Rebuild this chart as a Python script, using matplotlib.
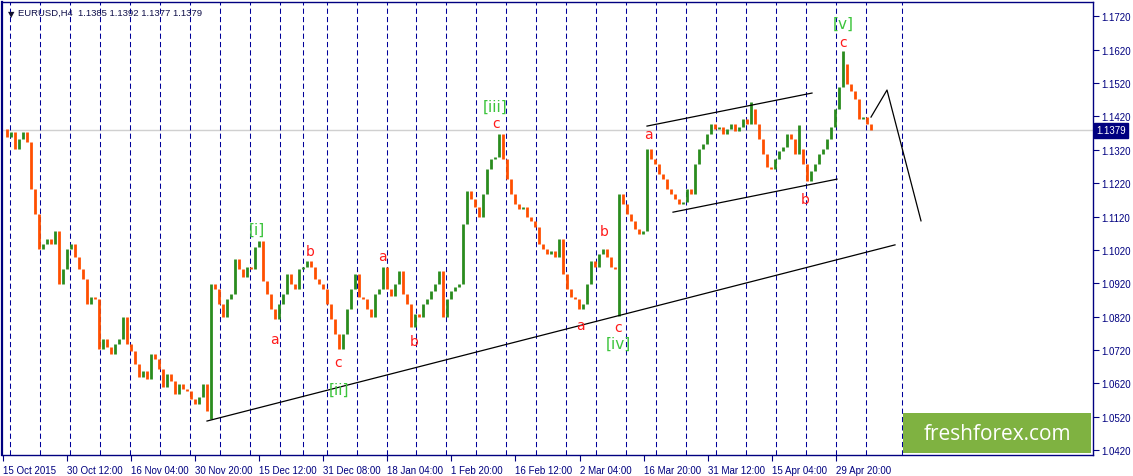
import numpy as np
import matplotlib.pyplot as plt
from matplotlib.patches import Rectangle
import matplotlib.transforms as mtransforms

# EURUSD H4 closes, one value every 4 bars
closes = [
    1.1382, 1.1358, 1.1373, 1.1322, 1.1352, 1.1373, 1.1343, 1.1202, 1.1127, 1.1022,
    1.1037, 1.1052, 1.1037, 1.1076, 1.0917, 1.0962, 1.1022, 1.1037, 1.0998, 1.0962,
    1.0932, 1.0857, 1.0878, 1.0872, 1.0722, 1.0752, 1.0728, 1.0707, 1.0737, 1.0752,
    1.0818, 1.0737, 1.0716, 1.0677, 1.0638, 1.0656, 1.0632, 1.0707, 1.0692, 1.0662,
    1.0608, 1.0647, 1.0626, 1.0587, 1.0617, 1.0602, 1.0596, 1.0572, 1.0557, 1.0578,
    1.0617, 1.0536, 1.0917, 1.0902, 1.0857, 1.0818, 1.0872, 1.0887, 1.0992, 1.0962,
    1.0938, 1.0968, 1.0962, 1.1028, 1.1046, 1.0926, 1.0887, 1.0842, 1.0812, 1.0857,
    1.0887, 1.0947, 1.0917, 1.0902, 1.0962, 1.0968, 1.0986, 1.0968, 1.0932, 1.0917,
    1.0902, 1.0857, 1.0812, 1.0767, 1.0722, 1.0767, 1.0842, 1.0902, 1.0947, 1.0878,
    1.0872, 1.0842, 1.0818, 1.0887, 1.0902, 1.0968, 1.0902, 1.0881, 1.0917, 1.0956,
    1.0887, 1.0857, 1.0788, 1.0827, 1.0818, 1.0857, 1.0872, 1.0896, 1.0917, 1.0956,
    1.0818, 1.0872, 1.0896, 1.0908, 1.0917, 1.1097, 1.1196, 1.1172, 1.1148, 1.1118,
    1.1187, 1.1262, 1.1292, 1.1298, 1.1367, 1.1292, 1.1232, 1.1187, 1.1157, 1.1142,
    1.1148, 1.1118, 1.1106, 1.1088, 1.1037, 1.1022, 1.1007, 1.1016, 1.0998, 1.1052,
    1.0947, 1.0902, 1.0878, 1.0872, 1.0842, 1.0857, 1.0917, 1.0986, 1.0968, 1.1007,
    1.1022, 1.0998, 1.0968, 1.0962, 1.1187, 1.1157, 1.1127, 1.1106, 1.1082, 1.1067,
    1.1076, 1.1322, 1.1292, 1.1277, 1.1247, 1.1232, 1.1202, 1.1187, 1.1172, 1.1157,
    1.1163, 1.1202, 1.1187, 1.1277, 1.1322, 1.1337, 1.1367, 1.1397, 1.1382, 1.1388,
    1.1367, 1.1382, 1.1397, 1.1376, 1.1388, 1.1412, 1.1397, 1.1442, 1.1397, 1.1352,
    1.1307, 1.1268, 1.1262, 1.1292, 1.1316, 1.1328, 1.1367, 1.1352, 1.1307, 1.1322,
    1.1277, 1.1226, 1.1256, 1.1277, 1.1307, 1.1322, 1.1352, 1.1388, 1.1442, 1.1508,
    1.1577, 1.1517, 1.1496, 1.1472, 1.1412, 1.1418, 1.1397, 1.1379,
]
# long wicks
spike_idx = [52, 154, 187, 199, 210]
spike_px = [1.0513, 1.0821, 1.1462, 1.1395, 1.1616]

last_price = 1.1379
header = "EURUSD,H4  1.1385 1.1392 1.1377 1.1379"

date_labels = ['15 Oct 2015', '30 Oct 12:00', '16 Nov 04:00', '30 Nov 20:00',
               '15 Dec 12:00', '31 Dec 08:00', '18 Jan 04:00', '1 Feb 20:00',
               '16 Feb 12:00', '2 Mar 04:00', '16 Mar 20:00', '31 Mar 12:00',
               '15 Apr 04:00', '29 Apr 20:00']
# week separators, in H4 bars from the left edge
week_starts = [10, 40, 70, 100, 130, 160, 190, 220, 250, 280, 303, 327, 357, 387,
               416, 446, 476, 506, 536, 566, 596, 626, 656, 686, 716, 746, 776,
               806, 836, 866, 902]

wave_text = ['[i]', '[ii]', '[iii]', '[iv]', '[v]']
wave_bar = [257, 339, 495, 618, 843]
wave_price = [1.1083, 1.0603, 1.1451, 1.0739, 1.1700]

sub_text = ['a', 'b', 'c', 'a', 'b', 'c', 'a', 'b', 'c', 'a', 'b', 'c']
sub_bar = [274, 310, 338, 382, 414, 496, 580, 604, 618, 648, 805, 843]
sub_price = [1.0753, 1.1017, 1.0684, 1.1002, 1.0747, 1.1400, 1.0795, 1.1077,
             1.0789, 1.1367, 1.1172, 1.1643]

trend_lines = [
    ([207, 895], [1.0507, 1.1035]),
    ([647, 812], [1.1391, 1.1490]),
    ([673, 837], [1.1133, 1.1232]),
    ([871, 887, 921], [1.1418, 1.1499, 1.1107]),
]

navy = '#000080'
up_col = '#2a8c1e'
dn_col = '#ff4f00'

fig = plt.figure(figsize=(11.33, 4.77), dpi=100)
ax = fig.add_axes([2 / 1133, 21 / 477, 1091 / 1133, 453 / 477])

c = np.array(closes)
o = np.r_[c[0], c[:-1]]
x = 3 + 4 * np.arange(len(c))
cols = np.where(c >= o, up_col, dn_col)
lo = np.minimum(o, c)
hi = np.maximum(o, c)
for i, p in zip(spike_idx, spike_px):
    lo[i] = min(lo[i], p)
    hi[i] = max(hi[i], p)
ax.vlines(x, lo, hi, colors=cols, lw=2.0, zorder=3)

for w in week_starts:
    ax.axvline(w, color='#000099', lw=0.75, ls=(0, (5, 3)), zorder=1)
ax.axhline(last_price, color='#d0d0d0', lw=1, zorder=0)

for xs, ys in trend_lines:
    ax.plot(xs, ys, color='black', lw=0.9, zorder=4)

for t, bx, py in zip(wave_text, wave_bar, wave_price):
    ax.text(bx, py, t, color='#3cc43c', fontsize=11, ha='center', va='center',
            family='DejaVu Sans', zorder=5)
for t, bx, py in zip(sub_text, sub_bar, sub_price):
    ax.text(bx, py, t, color='#ff1a1a', fontsize=10, ha='center', va='center',
            family='DejaVu Sans', zorder=5)

ax.set_xlim(2, 1093)
ax.set_ylim(1.04052, 1.17629)

ax.yaxis.tick_right()
yt = np.round(np.arange(1.0420, 1.1721, 0.01), 4)
ax.set_yticks(yt)
ax.set_yticklabels(['%.4f' % v for v in yt])
ax.set_xticks(2.9 + 64.07 * np.arange(len(date_labels)))
ax.set_xticklabels(date_labels)
for lab in ax.get_xticklabels():
    lab.set_ha('left')
ax.tick_params(axis='both', colors=navy, labelcolor=navy, labelsize=7,
               length=4, width=0.8, direction='out', pad=2)
ax.tick_params(axis='x', pad=3)
for lab in ax.get_xticklabels() + ax.get_yticklabels():
    lab.set_family('Liberation Sans')
for s in ax.spines.values():
    s.set_color(navy)
    s.set_linewidth(1)
ax.spines['left'].set_linewidth(1.6)

ax.text(8, 0.985, '\u25bc', transform=mtransforms.blended_transform_factory(
    ax.transData, ax.transAxes), fontsize=6, color='#101030', va='top',
    family='DejaVu Sans')
ax.text(18, 0.988, header, transform=mtransforms.blended_transform_factory(
    ax.transData, ax.transAxes), fontsize=6.8, color='#10104a', va='top',
    family='Liberation Sans')

# current price tag
tr = mtransforms.blended_transform_factory(ax.transAxes, ax.transData)
ax.text(1.003, last_price, '%.4f' % last_price, transform=tr, color='white',
        fontsize=7, va='center', ha='left', family='Liberation Sans',
        bbox=dict(boxstyle='square,pad=0.25', fc=navy, ec=navy),
        clip_on=False, zorder=6)

# watermark
ax.add_patch(Rectangle(((903 - 2) / 1091, (456 - 454) / 453), 188 / 1091, 40 / 453,
                       transform=ax.transAxes, fc='#7fb241', ec='none', zorder=6))
ax.text((997 - 2) / 1091, (456 - 435) / 453, 'freshforex.com', transform=ax.transAxes,
        color='white', fontsize=15, ha='center', va='center', family='Open Sans',
        zorder=7)

fig.savefig('out.png', dpi=100)
